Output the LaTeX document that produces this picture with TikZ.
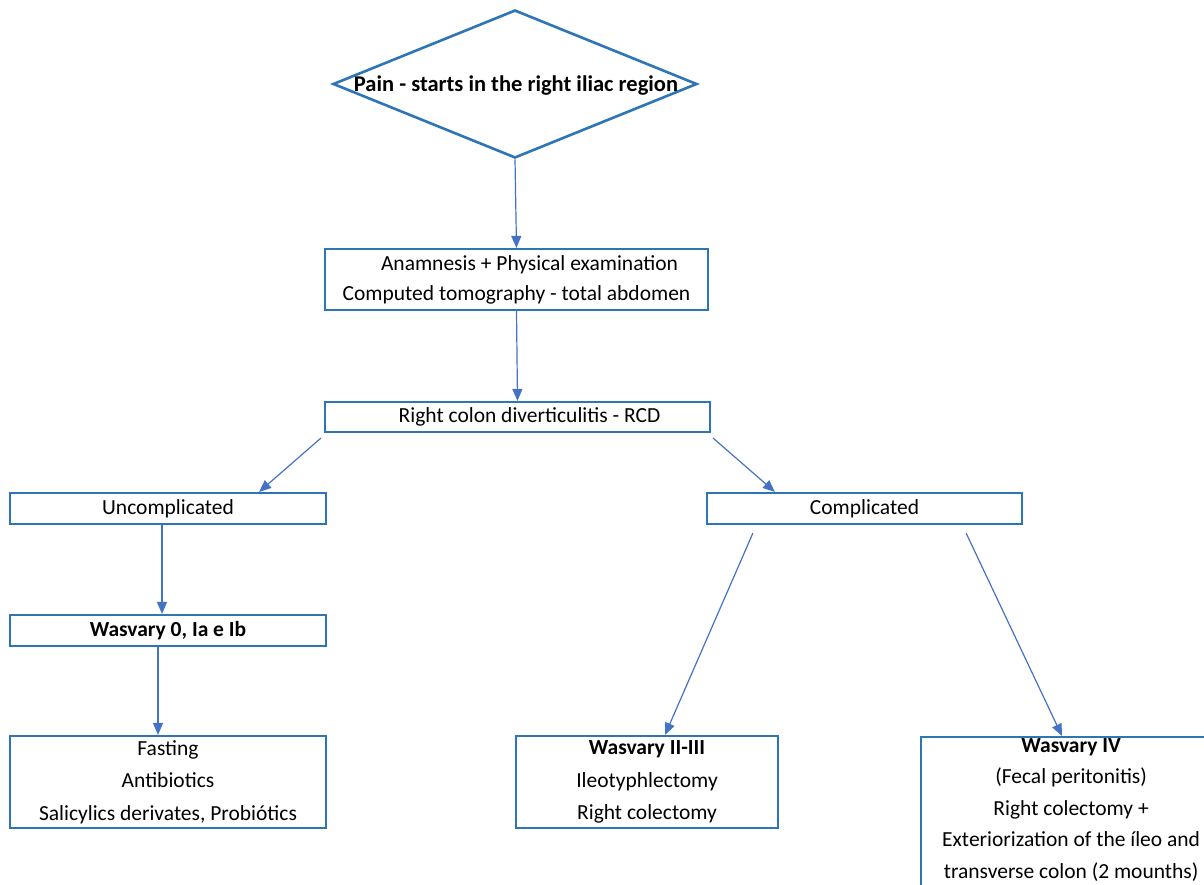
\documentclass[tikz,border=0pt]{standalone}
\usepackage{fontspec}
\setmainfont{Carlito}
\usetikzlibrary{shapes.geometric,arrows.meta}
\definecolor{boxblue}{HTML}{2E75B6}
\definecolor{arrowblue}{HTML}{4472C4}

\begin{document}
\begin{tikzpicture}[x=1pt, y=-1pt,
    decision/.style={diamond, draw=boxblue, line width=2.6pt, minimum width=364pt, minimum height=148pt, inner sep=0pt},
    process/.style={rectangle, draw=boxblue, line width=2.2pt, text centered, align=center, inner sep=2pt, font=\fontsize{21.5}{32.5}\selectfont},
    arrow/.style={draw=arrowblue, line width=1.2pt, -{Triangle[length=12pt,width=10pt]}}]

    \useasboundingbox (0,0) rectangle (1204,884);
    \clip (0,0) rectangle (1204,884);

    \node (pain) [decision] at (515,84) {};
    \node (paintext) [font=\fontsize{22.5}{26}\selectfont\bfseries] at (516,86) {Pain - starts in the right iliac region};
    \node (exam) [process, minimum width=383pt, minimum height=61pt] at (516.5,279.5) {\hspace*{26pt}Anamnesis + Physical examination\\[-2.5pt]Computed tomography - total abdomen};
    \node (rcd) [process, minimum width=385pt, minimum height=30pt] at (517.5,417) {\hspace*{24pt}Right colon diverticulitis - RCD};
    \node (unc) [process, minimum width=316pt, minimum height=31pt] at (168,508.5) {Uncomplicated};
    \node (comp) [process, minimum width=315pt, minimum height=31pt] at (864.5,508.5) {Complicated};
    \node (wzero) [process, minimum width=316pt, minimum height=31pt] at (168,630.5) {\textbf{Wasvary 0, Ia e Ib}};
    \node (conserv) [process, minimum width=316pt, minimum height=92pt] at (168,782) {Fasting\\Antibiotics\\Salicylics derivates, Probiótics};
    \node (wtwo) [process, minimum width=262pt, minimum height=92pt] at (647,782) {\textbf{Wasvary II-III}\\Ileotyphlectomy\\Right colectomy};
    % box runs on below the page
    \node (wfour) [process, anchor=north west, minimum width=300pt, inner ysep=1pt, font=\fontsize{21.5}{31.5}\selectfont] at (920,736) {\textbf{Wasvary IV}\\(Fecal peritonitis)\\Right colectomy +\\Exteriorization of the íleo and\\transverse colon (2 mounths)\rule[-20pt]{0pt}{0pt}};

    \draw [arrow] (pain.south) -- (exam.north);
    \draw [arrow] (exam.south) -- (rcd.north);
    \draw [arrow] ([xshift=-3pt,yshift=-5pt]rcd.south west) -- ([xshift=-68pt]unc.north east);
    \draw [arrow] ([xshift=2pt,yshift=-5pt]rcd.south east) -- ([xshift=69pt]comp.north west);
    \draw [arrow] ([xshift=-6pt]unc.south) -- ([xshift=-6pt]wzero.north);
    \draw [arrow] ([xshift=-10pt]wzero.south) -- ([xshift=-10pt]conserv.north);
    \draw [arrow] ([xshift=47pt,yshift=-8pt]comp.south west) -- ([xshift=18pt]wtwo.north);
    \draw [arrow] ([xshift=-57pt,yshift=-8pt]comp.south east) -- ([xshift=142pt]wfour.north west);

  \end{tikzpicture}
\end{document}
